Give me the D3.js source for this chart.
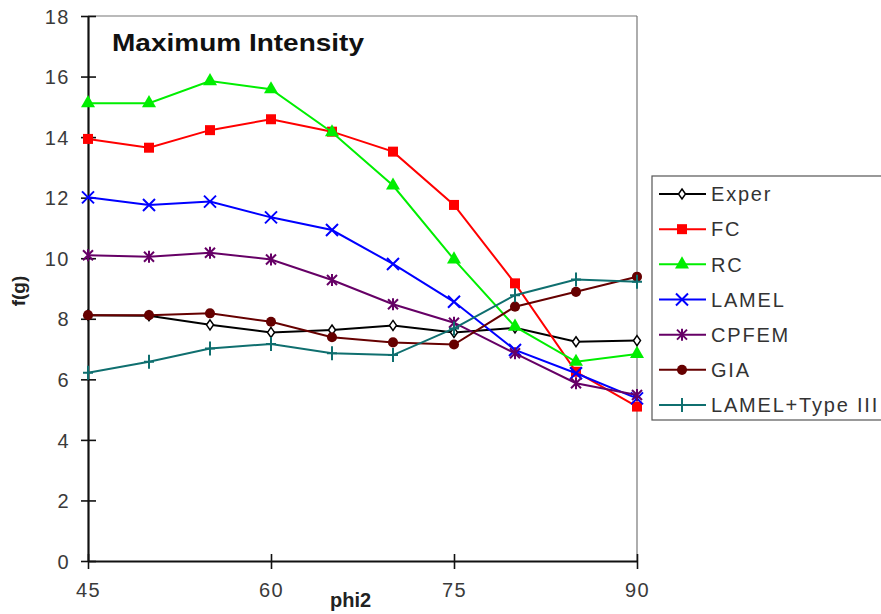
<!DOCTYPE html>
<html>
<head>
<meta charset="utf-8">
<script src="https://cdn.jsdelivr.net/npm/d3@7"></script>
<style>
  body { margin: 0; background: #fff; }
  svg { display: block; font-family: "Liberation Sans", Arial, sans-serif; }
</style>
</head>
<body>
<svg width="881" height="614"></svg>
<script>
var width = 881;
var height = 614;

// data
var phi2 = [45, 50, 55, 60, 65, 70, 75, 80, 85, 90];
var exper   = [8.12, 8.1, 7.8, 7.55, 7.63, 7.78, 7.55, 7.7, 7.24, 7.28];
var fc      = [13.94, 13.65, 14.23, 14.59, 14.18, 13.52, 11.76, 9.17, 6.25, 5.1];
var rc      = [15.12, 15.12, 15.85, 15.58, 14.16, 12.4, 9.96, 7.74, 6.58, 6.84];
var lamel   = [12.01, 11.76, 11.87, 11.35, 10.93, 9.81, 8.56, 6.97, 6.2, 5.37];
var cpfem   = [10.1, 10.05, 10.18, 9.96, 9.28, 8.48, 7.87, 6.86, 5.87, 5.48];
var gia     = [8.12, 8.12, 8.18, 7.9, 7.39, 7.22, 7.15, 8.4, 8.89, 9.39];
var lamel3  = [6.22, 6.58, 7.02, 7.17, 6.86, 6.8, 7.68, 8.78, 9.3, 9.22];

var seriesNames = ["Exper", "FC", "RC", "LAMEL", "CPFEM", "GIA", "LAMEL+Type III"];
var seriesValues = [exper, fc, rc, lamel, cpfem, gia, lamel3];
var seriesColors = ["#000000", "#ff0000", "#00ee00", "#0000ff", "#660066", "#660000", "#0f6f6f"];
var seriesMarks = ["diamond", "square", "triangle", "x", "star", "circle", "plus"];

var xTicks = [45, 60, 75, 90];
var yTicks = [0, 2, 4, 6, 8, 10, 12, 14, 16, 18];

var svg = d3.select("svg");

var x = d3.scaleLinear().domain([45, 90]).range([88, 637]);
var y = d3.scaleLinear().domain([0, 18]).range([561, 16]);

// frame (top/right grey)
svg.append("line").attr("x1", 88).attr("x2", 637).attr("y1", 16).attr("y2", 16)
  .attr("stroke", "#777").attr("stroke-width", 1.2);
svg.append("line").attr("x1", 637).attr("x2", 637).attr("y1", 16).attr("y2", 561)
  .attr("stroke", "#777").attr("stroke-width", 1.2);

// axes
var yAxis = d3.axisLeft(y).tickValues(yTicks).tickSize(0).tickPadding(18);
var gy = svg.append("g").attr("transform", "translate(88,0)").call(yAxis);
var xAxis = d3.axisBottom(x).tickValues(xTicks).tickSize(0).tickPadding(32);
var gx = svg.append("g").attr("transform", "translate(0,561)").call(xAxis);

[gx, gy].forEach(function(g) {
  g.select(".domain").attr("stroke", "#111").attr("stroke-width", 2.2);
  g.selectAll("text").attr("font-size", "20px").attr("fill", "#3a3a3a")
    .attr("letter-spacing", "1.5px")
    .attr("font-family", "Liberation Sans, Arial, sans-serif");
});
gy.selectAll("text").attr("dy", "0.36em");
gx.selectAll("text").attr("dy", "0.2em");

// cross ticks
gy.selectAll(".tick").append("line").attr("x1", -7).attr("x2", 8)
  .attr("stroke", "#111").attr("stroke-width", 1.6);
gx.selectAll(".tick").append("line").attr("y1", -7).attr("y2", 8)
  .attr("stroke", "#111").attr("stroke-width", 1.6);

// title + axis titles
svg.append("text").attr("x", 112).attr("y", 51)
  .attr("font-size", "24px").attr("font-weight", "bold").attr("fill", "#111")
  .attr("textLength", 252).attr("lengthAdjust", "spacingAndGlyphs")
  .text("Maximum Intensity");
svg.append("text").attr("x", 330).attr("y", 607)
  .attr("font-size", "20px").attr("font-weight", "bold").attr("fill", "#222")
  .text("phi2");
svg.append("text").attr("transform", "translate(25,291) rotate(-90)")
  .attr("text-anchor", "middle")
  .attr("font-size", "19px").attr("font-weight", "bold").attr("fill", "#222")
  .text("f(g)");

function markPath(kind) {
  if (kind == "diamond") return "M0,-5L3.5,0L0,5L-3.5,0Z";
  if (kind == "square") return d3.symbol().type(d3.symbolSquare).size(100)();
  if (kind == "triangle") return d3.symbol().type(d3.symbolTriangle).size(85)();
  if (kind == "circle") return d3.symbol().type(d3.symbolCircle).size(80)();
  if (kind == "x") return "M-6,-6L6,6M-6,6L6,-6";
  if (kind == "star") return "M-5,-5L5,5M-5,5L5,-5M0,-6L0,6";
  if (kind == "plus") return "M0,-7L0,7M-5,0L5,0";
  return "";
}

function drawMark(g, kind, color) {
  var p = g.append("path").attr("d", markPath(kind));
  if (kind == "diamond") {
    p.attr("fill", "#fff").attr("stroke", color).attr("stroke-width", 1.5);
  } else if (kind == "x" || kind == "star" || kind == "plus") {
    p.attr("fill", "none").attr("stroke", color).attr("stroke-width", 2);
  } else {
    p.attr("fill", color).attr("stroke", "none");
  }
}

var line = d3.line()
  .x(function(d, i) { return x(phi2[i]); })
  .y(function(d) { return y(d); });

seriesValues.forEach(function(vals, s) {
  var g = svg.append("g").attr("class", "series");
  g.append("path").datum(vals).attr("d", line)
    .attr("fill", "none").attr("stroke", seriesColors[s]).attr("stroke-width", 2);
  vals.forEach(function(v, i) {
    var m = g.append("g").attr("transform", "translate(" + x(phi2[i]) + "," + y(v) + ")");
    drawMark(m, seriesMarks[s], seriesColors[s]);
  });
});

// legend
var legend = svg.append("g");
legend.append("rect").attr("x", 652).attr("y", 176).attr("width", 250).attr("height", 244)
  .attr("fill", "#fff").attr("stroke", "#555").attr("stroke-width", 1.2);
var legendY = d3.scalePoint().domain(seriesNames).range([194, 405]);
seriesNames.forEach(function(name, s) {
  var ly = legendY(name);
  legend.append("line").attr("x1", 659).attr("x2", 706).attr("y1", ly).attr("y2", ly)
    .attr("stroke", seriesColors[s]).attr("stroke-width", 2);
  var m = legend.append("g").attr("transform", "translate(682," + ly + ")");
  drawMark(m, seriesMarks[s], seriesColors[s]);
  legend.append("text").attr("x", 711).attr("y", ly).attr("dy", "0.36em")
    .attr("font-size", "20px").attr("fill", "#333").attr("letter-spacing", "1.8px")
    .text(name);
});
</script>
</body>
</html>
